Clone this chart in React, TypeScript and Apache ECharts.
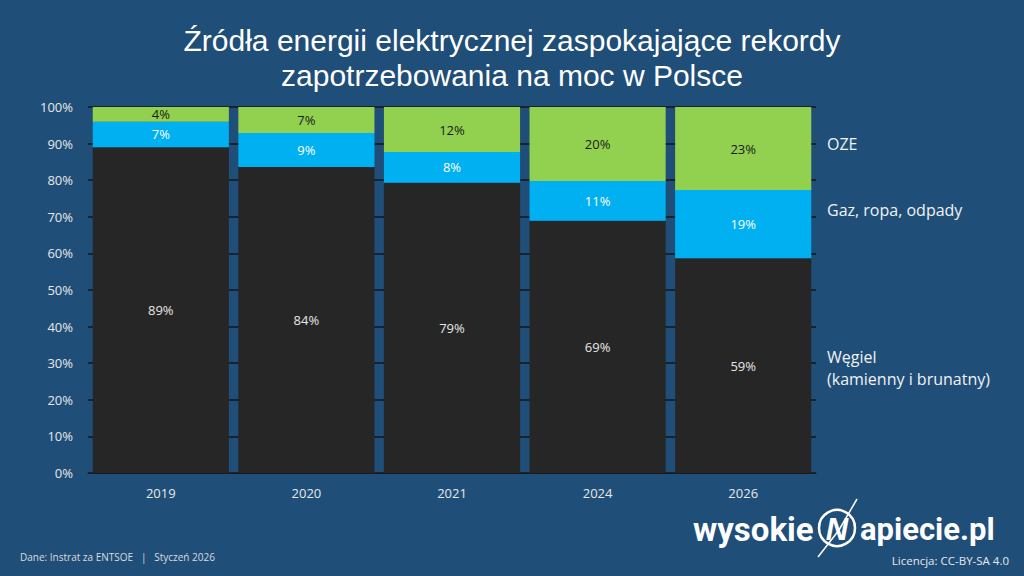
import React, { useEffect, useRef } from "react";
import * as echarts from "echarts";

const years = ["2019", "2020", "2021", "2024", "2026"];
const coal = [89.0, 83.6, 79.3, 68.9, 58.7];
const gas = [7.0, 9.3, 8.4, 10.9, 18.6];
const oze = [4.0, 7.1, 12.3, 20.2, 22.7];
const seriesNames = ["Węgiel\n(kamienny i brunatny)", "Gaz, ropa, odpady", "OZE"];
const yTicks = [0, 10, 20, 30, 40, 50, 60, 70, 80, 90, 100];
const titleLines = ["Źródła energii elektrycznej zaspokajające rekordy", "zapotrzebowania na moc w Polsce"];
const footerLeft = "Dane: Instrat za ENTSOE   |   Styczeń 2026";
const footerRight = "Licencja: CC-BY-SA 4.0";

const BG = "#1F4E79";
const FONT = "'Open Sans', 'Noto Sans', sans-serif";
const LOGO_FONT = "'Roboto', 'Liberation Sans', sans-serif";

export default function App() {
  const ref = useRef<HTMLDivElement>(null);
  useEffect(() => {
    document.body.style.margin = "0";
    const chart = echarts.init(ref.current!, null, { renderer: "svg" });
    const fmt = (p: any) => Math.round(p.value) + "%";
    const mk = (name: string, data: number[], color: string, labelColor: string) => ({
      name,
      type: "bar",
      stack: "total",
      data,
      barCategoryGap: "6.5%",
      itemStyle: { color },
      label: {
        show: true,
        position: "inside",
        formatter: fmt,
        color: labelColor,
        fontSize: 13,
        fontFamily: FONT,
      },
    });
    chart.setOption({
      animation: false,
      backgroundColor: BG,
      title: {
        text: titleLines.join("\n"),
        left: "center",
        top: 18,
        textStyle: {
          color: "#ffffff",
          fontSize: 30,
          fontWeight: "normal",
          fontFamily: "'Liberation Sans', Arial, sans-serif",
          lineHeight: 35,
        },
      },
      grid: { left: 88, right: 208, top: 107, bottom: 103 },
      xAxis: {
        type: "category",
        data: years,
        axisLine: { show: true, lineStyle: { color: "#1a1a1a", width: 1 } },
        axisTick: { show: false },
        axisLabel: { color: "#e8e8e8", fontSize: 13, fontFamily: FONT, margin: 13 },
      },
      yAxis: {
        type: "value",
        min: yTicks[0],
        max: yTicks[yTicks.length - 1],
        interval: 10,
        axisLine: { show: false },
        axisTick: { show: false },
        splitLine: { show: true, lineStyle: { color: "#161616", width: 1.5 } },
        axisLabel: { color: "#e8e8e8", fontSize: 13, fontFamily: FONT, margin: 15, formatter: "{value}%" },
      },
      series: [
        mk(seriesNames[0], coal, "#262626", "#e6e6e6"),
        mk(seriesNames[1], gas, "#00B0F0", "#ffffff"),
        mk(seriesNames[2], oze, "#92D050", "#1a1a1a"),
      ],
      graphic: [
        { type: "text", left: 827, top: 136, style: { text: seriesNames[2], fill: "#f2f2f2", font: `16px ${FONT}` } },
        { type: "text", left: 827, top: 202, style: { text: seriesNames[1], fill: "#f2f2f2", font: `16px ${FONT}` } },
        { type: "text", left: 827, top: 346, style: { text: seriesNames[0], fill: "#f2f2f2", font: `16px ${FONT}`, lineHeight: 22 } },
        { type: "text", left: 20, top: 552, style: { text: footerLeft, fill: "#dcdcdc", font: `10px ${FONT}` } },
        { type: "text", right: 15, top: 554, style: { text: footerRight, fill: "#e8e8e8", font: `11.5px ${FONT}` } },
        { type: "text", x: 693, y: 529, style: { text: "wysokie", fill: "#ffffff", font: `bold 33px ${LOGO_FONT}`, textVerticalAlign: "middle" } },
        { type: "text", x: 860, y: 529, style: { text: "apiecie.pl", fill: "#ffffff", font: `bold 31px ${LOGO_FONT}`, textVerticalAlign: "middle" } },
        { type: "circle", shape: { cx: 837, cy: 528, r: 18 }, style: { fill: "none", stroke: "#ffffff", lineWidth: 2.5 } },
        { type: "text", x: 837, y: 529, style: { text: "N", fill: "#ffffff", font: `italic bold 31px 'Liberation Sans', sans-serif`, textAlign: "center", textVerticalAlign: "middle" } },
        { type: "polyline", shape: { points: [[857, 499], [839, 530], [818, 557]] }, style: { stroke: "#ffffff", lineWidth: 1.5, fill: "none" } },
      ],
    });
    return () => chart.dispose();
  }, []);
  return <div ref={ref} style={{ width: 1024, height: 576 }} />;
}
